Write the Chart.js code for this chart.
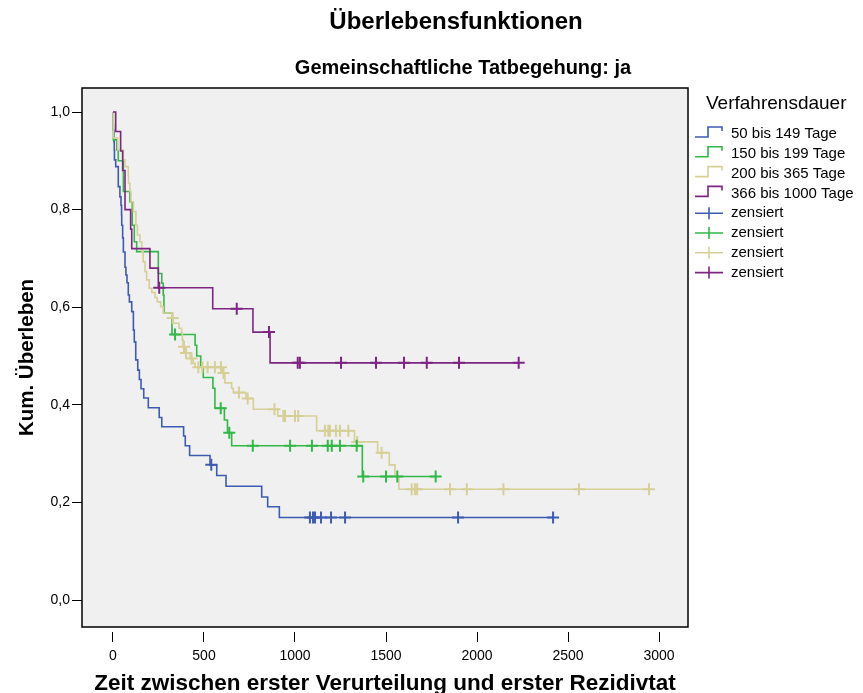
<!DOCTYPE html>
<html lang="de">
<head>
<meta charset="UTF-8">
<title>Überlebensfunktionen</title>
<script src="https://cdn.jsdelivr.net/npm/chart.js"></script>
<style>
  body { margin: 0; background: #fff; }
  #wrap { width: 863px; height: 693px; }
</style>
</head>
<body>
<div id="wrap"><canvas id="km" width="863" height="693"></canvas></div>
<script>
// Verfahrensdauer groups
const groupNames = ['50 bis 149 Tage', '150 bis 199 Tage', '200 bis 365 Tage', '366 bis 1000 Tage'];
const groupColors = ['#3e5bb4', '#31b847', '#d6cf96', '#7e2583'];

// event times (days) and cumulative survival right after each event
const t50 = [0, 1, 2, 5, 7, 8, 15, 29, 38, 44, 47, 48, 53, 57, 66, 71, 77, 84, 90, 103, 112, 117, 125, 136, 145, 154, 169, 194, 254, 268, 388, 397, 421, 533, 570, 621, 817, 850, 914];
const s50 = [1, 0.974, 0.963, 0.939, 0.922, 0.902, 0.888, 0.847, 0.826, 0.809, 0.789, 0.768, 0.742, 0.713, 0.682, 0.666, 0.650, 0.625, 0.611, 0.591, 0.553, 0.529, 0.492, 0.471, 0.452, 0.433, 0.414, 0.394, 0.374, 0.355, 0.336, 0.316, 0.296, 0.277, 0.255, 0.233, 0.211, 0.191, 0.169];
const c50 = [540, 1082, 1099, 1110, 1143, 1198, 1275, 1896, 2418];

const t150 = [0, 2, 21, 29, 57, 93, 106, 117, 130, 249, 268, 276, 280, 324, 451, 460, 482, 496, 549, 560, 612, 629, 652, 1370];
const s150 = [1, 0.943, 0.922, 0.900, 0.837, 0.816, 0.768, 0.734, 0.714, 0.669, 0.649, 0.625, 0.588, 0.544, 0.522, 0.500, 0.478, 0.456, 0.434, 0.393, 0.369, 0.343, 0.316, 0.253];
const c150 = [341, 592, 639, 768, 973, 1093, 1180, 1202, 1247, 1339, 1375, 1500, 1562, 1773];

const t200 = [0, 1, 2, 26, 57, 66, 84, 85, 93, 99, 112, 126, 134, 148, 158, 166, 176, 185, 199, 213, 231, 243, 262, 276, 323, 331, 363, 377, 381, 385, 396, 423, 441, 451, 600, 615, 652, 661, 731, 771, 905, 1119, 1327, 1454, 1518, 1549, 1571];
const s200 = [1, 0.974, 0.947, 0.922, 0.902, 0.888, 0.871, 0.854, 0.837, 0.816, 0.796, 0.768, 0.748, 0.734, 0.714, 0.693, 0.673, 0.656, 0.639, 0.630, 0.620, 0.611, 0.601, 0.588, 0.578, 0.567, 0.557, 0.547, 0.533, 0.519, 0.506, 0.495, 0.485, 0.477, 0.465, 0.445, 0.434, 0.425, 0.413, 0.391, 0.377, 0.347, 0.324, 0.302, 0.277, 0.254, 0.227];
const c200 = [328, 390, 401, 432, 469, 491, 520, 560, 593, 607, 692, 740, 887, 936, 945, 1000, 1018, 1165, 1183, 1192, 1225, 1247, 1293, 1342, 1476, 1641, 1659, 1671, 1852, 1944, 2145, 2560, 2945];

const t366 = [0, 15, 42, 53, 66, 97, 103, 203, 249, 548, 769, 863];
const s366 = [1, 0.96, 0.92, 0.88, 0.80, 0.76, 0.72, 0.68, 0.64, 0.597, 0.549, 0.486];
const c366 = [254, 680, 857, 1015, 1027, 1253, 1445, 1599, 1724, 1901, 2229];

const xTicks = [0, 500, 1000, 1500, 2000, 2500, 3000];
const yTicks = [0, 0.2, 0.4, 0.6, 0.8, 1.0];

const groups = [
  { t: t50, s: s50, c: c50 },
  { t: t150, s: s150, c: c150 },
  { t: t200, s: s200, c: c200 },
  { t: t366, s: s366, c: c366 }
];

function stepPoints(g) {
  const pts = g.t.map((t, i) => ({ x: t, y: g.s[i] }));
  const last = Math.max(...g.c);
  if (last > g.t[g.t.length - 1]) pts.push({ x: last, y: g.s[g.s.length - 1] });
  return pts;
}

function survAt(g, time) {
  let v = g.s[0];
  for (let i = 0; i < g.t.length; i++) if (g.t[i] <= time) v = g.s[i];
  return v;
}

const FONT = "'Liberation Sans', Arial, sans-serif";
Chart.defaults.font.family = FONT;
Chart.defaults.color = '#000';

const datasets = [];
groups.forEach((g, i) => {
  datasets.push({
    type: 'line', label: groupNames[i], data: stepPoints(g),
    stepped: 'before', borderColor: groupColors[i], borderWidth: 1.6,
    pointRadius: 0, fill: false, order: 4 - i
  });
});
groups.forEach((g, i) => {
  datasets.push({
    type: 'scatter', label: 'zensiert', data: g.c.map(t => ({ x: t, y: survAt(g, t) })),
    pointStyle: 'cross', pointRadius: 6, borderColor: groupColors[i], borderWidth: 2,
    order: 0
  });
});

const frame = {
  id: 'frame',
  beforeDraw(chart) {
    const a = chart.chartArea, ctx = chart.ctx;
    ctx.save();
    ctx.fillStyle = '#f0f0f0';
    ctx.fillRect(a.left, a.top, a.right - a.left, a.bottom - a.top);
    ctx.restore();
  },
  afterDraw(chart) {
    const a = chart.chartArea, ctx = chart.ctx;
    ctx.save();
    ctx.strokeStyle = '#000';
    ctx.lineWidth = 1.5;
    ctx.strokeRect(a.left, a.top, a.right - a.left, a.bottom - a.top);

    // titles
    ctx.fillStyle = '#000';
    ctx.textAlign = 'center';
    ctx.textBaseline = 'middle';
    ctx.font = 'bold 24px ' + FONT;
    ctx.fillText('Überlebensfunktionen', 456, 22);
    ctx.font = 'bold 20px ' + FONT;
    ctx.fillText('Gemeinschaftliche Tatbegehung: ja', 463, 68);

    // legend
    ctx.textAlign = 'left';
    ctx.font = '19px ' + FONT;
    ctx.fillText('Verfahrensdauer', 706, 104);
    ctx.font = '15px ' + FONT;
    const labels = groupNames.concat(['zensiert', 'zensiert', 'zensiert', 'zensiert']);
    labels.forEach((txt, i) => {
      const c = 134 + 19.8 * i;
      const col = groupColors[i % 4];
      ctx.strokeStyle = col;
      ctx.lineWidth = 1.6;
      ctx.beginPath();
      if (i < 4) {
        ctx.moveTo(695, c + 3);
        ctx.lineTo(708, c + 3);
        ctx.lineTo(708, c - 7);
        ctx.lineTo(722, c - 7);
        ctx.lineTo(722, c - 3);
      } else {
        ctx.moveTo(695, c);
        ctx.lineTo(723, c);
        ctx.moveTo(709, c - 6);
        ctx.lineTo(709, c + 6);
      }
      ctx.stroke();
      ctx.fillStyle = '#000';
      ctx.fillText(txt, 731, c);
    });
    ctx.restore();
  }
};

new Chart(document.getElementById('km'), {
  data: { datasets },
  options: {
    responsive: false,
    animation: false,
    layout: { padding: { top: 88, right: 175, left: 0, bottom: 0 } },
    plugins: { legend: { display: false }, tooltip: { enabled: false } },
    scales: {
      x: {
        type: 'linear', min: -170.3, max: 3159.3,
        afterBuildTicks: s => { s.ticks = xTicks.map(v => ({ value: v })); },
        afterFit: s => { s.height = 66; },
        grid: { drawOnChartArea: false, tickLength: 15, color: '#000', tickBorderDash: [0, 5, 10] },
        border: { display: false },
        ticks: { font: { size: 14 }, padding: 6, maxRotation: 0, callback: v => String(v) },
        title: { display: true, text: 'Zeit zwischen erster Verurteilung und erster Rezidivtat',
          font: { size: 22.5, weight: 'bold', lineHeight: 0.85 }, padding: 0 }
      },
      y: {
        type: 'linear', min: -0.0553, max: 1.0492,
        afterBuildTicks: s => { s.ticks = yTicks.map(v => ({ value: v })); },
        afterFit: s => { s.width = 82; },
        grid: { drawOnChartArea: false, tickLength: 10, color: '#000' },
        border: { display: false },
        ticks: { font: { size: 14 }, padding: 2, callback: v => v.toFixed(1).replace('.', ',') },
        title: { display: true, text: 'Kum. Überleben',
          font: { size: 20.5, weight: 'bold' }, padding: { top: 15, bottom: 0 } }
      }
    }
  },
  plugins: [frame]
});
</script>
</body>
</html>
